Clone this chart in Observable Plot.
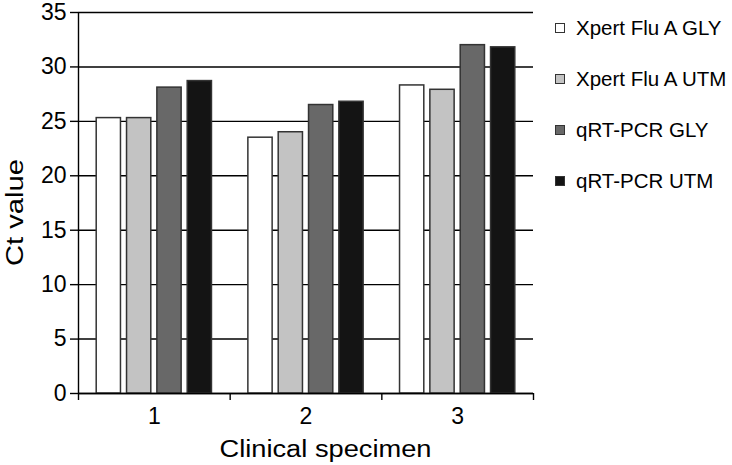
<!DOCTYPE html>
<html>
<head>
<meta charset="utf-8">
<script src="https://cdn.jsdelivr.net/npm/d3@7"></script>
<script src="https://cdn.jsdelivr.net/npm/@observablehq/plot@0.6"></script>
<style>
  html, body { margin: 0; padding: 0; background: #fff; }
  #wrap { position: relative; width: 732px; height: 465px; font-family: "Liberation Sans", Arial, sans-serif; }
  #legend { position: absolute; left: 555px; top: 2px; }
  .row { display: flex; align-items: center; height: 51px; font-size: 20.5px; color: #000; }
  .sw { width: 8px; height: 8px; border: 1.5px solid #333; margin-right: 11px; }
</style>
</head>
<body>
<div id="wrap"><div id="legend"></div></div>
<script>
const specimens = [1, 2, 3];
const seriesNames = ["Xpert Flu A GLY", "Xpert Flu A UTM", "qRT-PCR GLY", "qRT-PCR UTM"];
const xpertGLY = [25.3, 23.5, 28.3];
const xpertUTM = [25.3, 24.0, 27.9];
const qpcrGLY  = [28.1, 26.5, 32.0];
const qpcrUTM  = [28.7, 26.8, 31.8];
const seriesColors = ["#ffffff", "#c3c3c3", "#686868", "#141414"];
const yTicks = [0, 5, 10, 15, 20, 25, 30, 35];
const yTitle = "Ct value";
const xTitle = "Clinical specimen";

const seriesValues = [xpertGLY, xpertUTM, qpcrGLY, qpcrUTM];
const data = specimens.flatMap((s, i) =>
  seriesNames.map((name, j) => ({specimen: s, series: name, idx: j, value: seriesValues[j][i]}))
);

const pad = 0.12, step = 0.2, bw = 0.16;
const bounds = specimens.map(s => s - 0.5).concat([specimens[specimens.length - 1] + 0.5]);

const chart = Plot.plot({
  width: 732,
  height: 465,
  marginLeft: 78,
  marginRight: 199,
  marginTop: 12,
  marginBottom: 72,
  style: {fontFamily: "Liberation Sans, Arial, sans-serif", background: "#fff", color: "#000"},
  x: {domain: [bounds[0], bounds[bounds.length - 1]]},
  y: {domain: [0, 35]},
  color: {domain: seriesNames, range: seriesColors},
  marks: [
    Plot.gridY({ticks: yTicks, stroke: "#000", strokeOpacity: 1, strokeWidth: 1.4}),
    Plot.rectY(data, {
      x1: d => d.specimen - 0.5 + pad + step * d.idx,
      x2: d => d.specimen - 0.5 + pad + step * d.idx + bw,
      y: "value",
      fill: "series",
      stroke: "#333",
      strokeWidth: 1.5
    }),
    Plot.ruleX([bounds[0]], {stroke: "#000", strokeWidth: 1.4}),
    Plot.ruleY([0], {stroke: "#000", strokeWidth: 1.4}),
    Plot.axisY({ticks: yTicks, tickSize: 8, tickPadding: 4, fontSize: 23, label: null, strokeWidth: 1.4}),
    Plot.axisX({ticks: bounds, tickSize: 7, tickFormat: () => "", label: null, strokeWidth: 1.4}),
    Plot.axisX({ticks: specimens, tickSize: 0, tickPadding: 14, fontSize: 23, tickFormat: d => String(d), label: null}),
    Plot.text([yTitle], {frameAnchor: "left", rotate: -90, textAnchor: "middle", lineAnchor: "middle", dx: -63, dy: 9.5, fontSize: 23, fill: "#000"}),
    Plot.text([xTitle], {frameAnchor: "bottom", textAnchor: "middle", lineAnchor: "middle", dx: 19.5, dy: 55.5, fontSize: 23.5, fill: "#000"})
  ]
});

// the original titles are set in a wider face: stretch them to their measured lengths
chart.querySelectorAll("text").forEach(t => {
  if (t.textContent === yTitle) { t.setAttribute("textLength", 107); t.setAttribute("lengthAdjust", "spacingAndGlyphs"); }
  if (t.textContent === xTitle) { t.setAttribute("textLength", 212); t.setAttribute("lengthAdjust", "spacingAndGlyphs"); }
});

const wrap = document.getElementById("wrap");
wrap.insertBefore(chart, wrap.firstChild);

const legend = document.getElementById("legend");
seriesNames.forEach((name, j) => {
  const row = document.createElement("div");
  row.className = "row";
  const sw = document.createElement("div");
  sw.className = "sw";
  sw.style.background = seriesColors[j];
  const t = document.createElement("span");
  t.textContent = name;
  row.appendChild(sw);
  row.appendChild(t);
  legend.appendChild(row);
});
</script>
</body>
</html>
